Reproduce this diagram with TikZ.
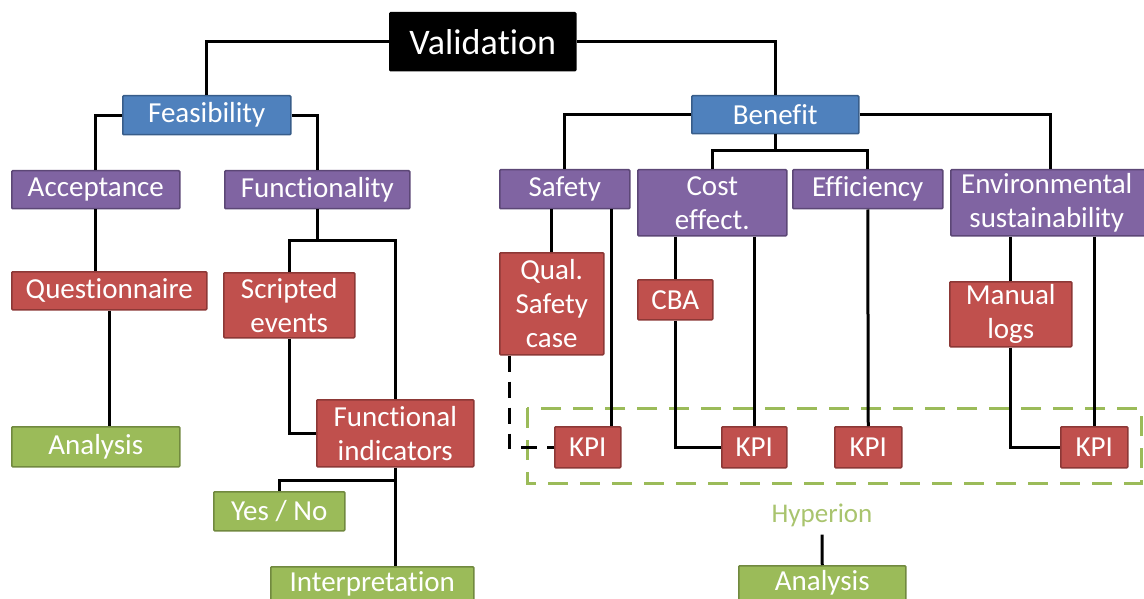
\documentclass[tikz,border=0pt]{standalone}
\usepackage{fontspec}
\setmainfont{Carlito}[Ligatures={NoCommon,NoContextual}, Contextuals=NoAlternate]
\usepackage{tikz}
\usetikzlibrary{positioning, calc}
\definecolor{BlueFill}{HTML}{4F81BD}
\definecolor{BlueLine}{HTML}{385D8A}
\definecolor{PurpleFill}{HTML}{8064A2}
\definecolor{PurpleLine}{HTML}{5C4776}
\definecolor{RedFill}{HTML}{C0504D}
\definecolor{RedLine}{HTML}{8C3836}
\definecolor{GreenFill}{HTML}{9BBB59}
\definecolor{GreenLine}{HTML}{71893F}
\definecolor{GreenText}{HTML}{A9C46E}

\tikzset{
  box/.style={draw, line width=1.5pt, rounded corners=1pt, inner sep=0pt, text=white, align=center, anchor=north west, font=\fontsize{29}{34}\selectfont},
  topbox/.style={box, fill=black, font=\fontsize{36}{40}\selectfont},
  aimbox/.style={box, fill=BlueFill, draw=BlueLine},
  critbox/.style={box, fill=PurpleFill, draw=PurpleLine},
  methbox/.style={box, fill=RedFill, draw=RedLine},
  outbox/.style={box, fill=GreenFill, draw=GreenLine},
  link/.style={line width=3pt, black}
}

\begin{document}
\begin{tikzpicture}[x=1pt, y=-1pt]
        \useasboundingbox (0,0) rectangle (1144,599);

        % Top
        \node [topbox, minimum width=186pt, minimum height=58pt] (val) at (389,12) {Valida\kern0pt tion};

        % Feasibility branch
        \node [aimbox, minimum width=168pt, minimum height=39pt] (feas) at (122,95) {Feasibility};
        \node [critbox, minimum width=168pt, minimum height=38pt] (acc) at (11,170) {Acceptance};
        \node [critbox, minimum width=185pt, minimum height=38pt] (func) at (224,170) {Functionality};
        \node [methbox, minimum width=195pt, minimum height=38pt] (quest) at (11,271) {Questionnaire};
        \node [outbox, minimum width=168pt, minimum height=40pt] (anaa) at (11,426) {Analysis};
        \node [methbox, minimum width=131pt, minimum height=65pt] (scr) at (223,272) {Scripted\\events};
        \node [methbox, minimum width=157pt, minimum height=67pt] (fi) at (316,399) {Functional\\indicators};
        \node [outbox, minimum width=131pt, minimum height=39pt] (yn) at (213,491) {Yes / No};
        \node [outbox, minimum width=203pt, minimum height=35pt] (interp) at (270,566) {Interpretation};

        % Benefit branch
        \node [aimbox, minimum width=167pt, minimum height=38pt] (ben) at (691,95) {Benefit};
        \node [critbox, minimum width=130pt, minimum height=39pt] (saf) at (499,169) {Safety};
        \node [critbox, minimum width=149pt, minimum height=66pt] (cost) at (637,169) {Cost\\effect.};
        \node [critbox, minimum width=150pt, minimum height=39pt] (eff) at (792,169) {Efficiency};
        \node [critbox, minimum width=200pt, minimum height=66pt] (env) at (950,169) {\hspace*{-8pt}Environmental\\\hspace*{-8pt}sustainability};
        \node [methbox, minimum width=104pt, minimum height=102pt] (qual) at (499,252) {Qual.\\Safety\\case};
        \node [methbox, minimum width=75pt, minimum height=40pt] (cba) at (637,279) {CBA};
        \node [methbox, minimum width=122pt, minimum height=65pt] (man) at (949,281) {Manual\\logs};

        % KPIs
        \node [methbox, minimum width=66pt, minimum height=41pt] (kpia) at (554,426) {KPI};
        \node [methbox, minimum width=65pt, minimum height=41pt] (kpib) at (721,426) {KPI};
        \node [methbox, minimum width=67pt, minimum height=41pt] (kpic) at (834,426) {KPI};
        \node [methbox, minimum width=67pt, minimum height=41pt] (kpid) at (1060,426) {KPI};
        \draw [GreenFill, line width=3pt, dash pattern=on 20pt off 12pt] (527,408) rectangle (1141,483);

        % Hyperion
        \node [text=GreenText, font=\fontsize{27}{30}\selectfont, inner sep=0pt] (hyp) at (822,515) {Hyperion};
        \node [outbox, minimum width=167pt, minimum height=35pt] (anab) at (738,565) {Analysis};

        % Links, feasibility side
        \draw [link] (val.west) -| (feas.north);
        \draw [link] (feas.west) -| (acc.north);
        \draw [link] (feas.east) -| (func.north);
        \draw [link] (acc.south) -- (acc.south |- quest.north);
        \draw [link] (quest.south) -- (quest.south |- anaa.north);
        \coordinate (fjoin) at (func.south |- 0,240);
        \draw [link] (func.south) -- (fjoin);
        \draw [link] (scr.north) |- (fjoin) -| (fi.north);
        \draw [link] (scr.south) |- (fi.west);
        \coordinate (ijoin) at (fi.south |- 0,480);
        \draw [link] (fi.south) -- (fi.south |- interp.north);
        \draw [link] (ijoin) -| (yn.north);

        % Links, benefit side
        \draw [link] (val.east) -| (ben.north);
        \draw [link] (ben.west) -| (saf.north);
        \draw [link] (ben.east) -| (env.north);
        \coordinate (bjoin) at (ben.south |- 0,151);
        \draw [link] (ben.south) -- (bjoin);
        \draw [link] (cost.north) |- (bjoin) -| (eff.north);
        \draw [link] (qual.north |- saf.south) -- (qual.north);
        \draw [link] ([xshift=-19pt]saf.south east) -- ([xshift=-19pt]saf.south east |- kpia.north);
        \draw [link, dash pattern=on 16pt off 10pt] ([xshift=10pt]qual.south west) |- (kpia.west);
        \draw [link] (cost.south -| cba.north) -- (cba.north);
        \draw [link] (kpib.north |- cost.south) -- (kpib.north);
        \draw [link] (cba.south) |- (kpib.west);
        \draw [link] (eff.south) -- (kpic.north);
        \draw [link] (env.south -| man.north) -- (man.north);
        \draw [link] (kpid.north |- env.south) -- (kpid.north);
        \draw [link] (man.south) |- (kpid.west);
        \draw [link] ([yshift=-8pt]hyp.south) -- (anab.north);
\end{tikzpicture}
\end{document}
